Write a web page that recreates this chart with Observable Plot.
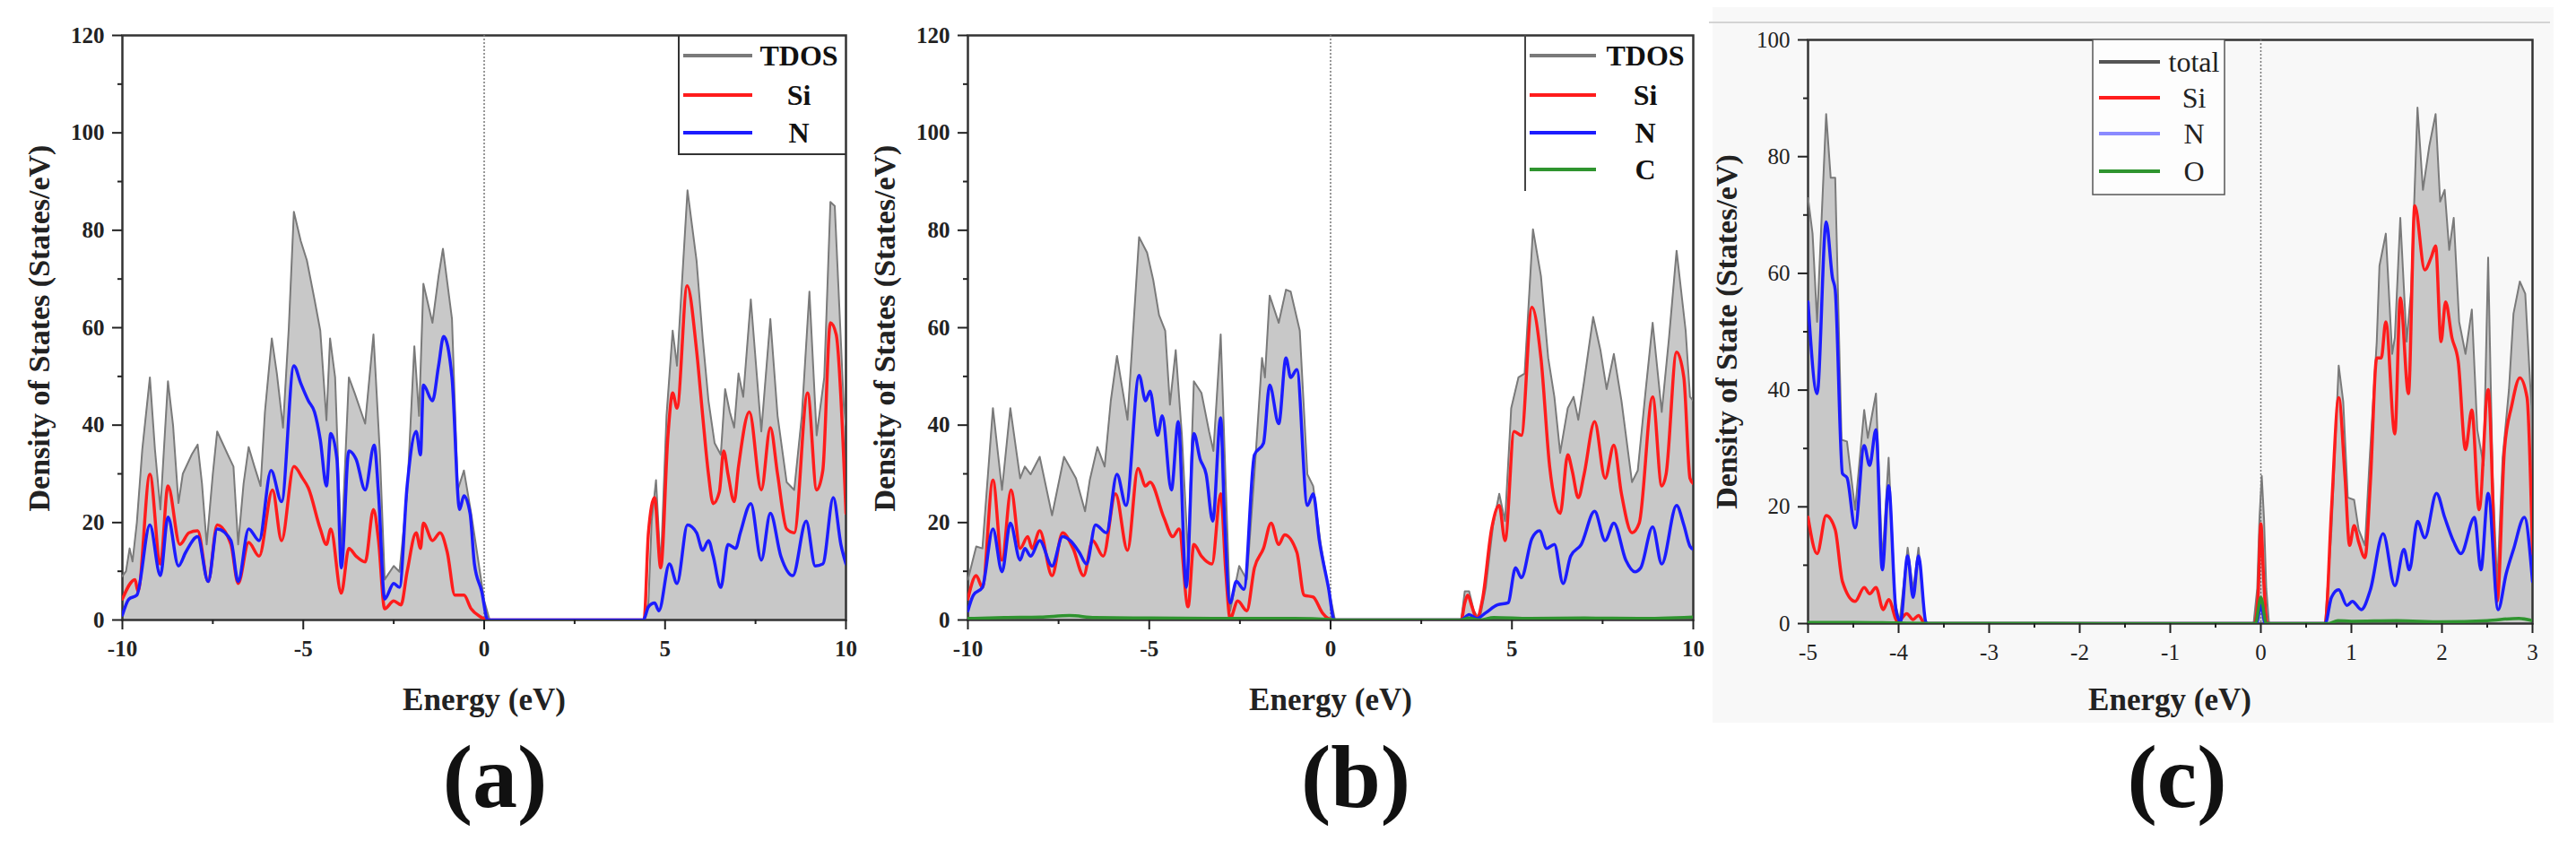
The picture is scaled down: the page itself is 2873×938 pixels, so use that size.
<!DOCTYPE html>
<html><head><meta charset="utf-8">
<script src="https://cdn.jsdelivr.net/npm/d3@7"></script>
<script src="https://cdn.jsdelivr.net/npm/@observablehq/plot@0.6"></script>
<style>
html,body{margin:0;padding:0;background:#fff;}
#wrap{position:relative;width:2873px;height:938px;overflow:hidden;background:#fff;font-family:"Liberation Serif","Times New Roman",serif;}
.pnl{position:absolute;top:0;}
.boldticks g[aria-label="x-axis tick label"], .boldticks g[aria-label="y-axis tick label"]{font-weight:bold;}
#cbg{position:absolute;left:1910px;top:8px;width:938px;height:798px;background:#f8f8f8;}
#cline{position:absolute;left:1906px;top:24px;width:938px;height:2px;background:#d4d4d4;}
#over{position:absolute;left:0;top:0;pointer-events:none;}
</style></head>
<body>
<div id="wrap"><div id="cbg"></div><div id="cline"></div></div>
<script>
// ---------- data: [energy (eV), DOS (states/eV)] ----------
// panel (a)
const aTdos = [[-10,9],[-9.9,10],[-9.8,14.7],[-9.72,12],[-9.6,20],[-9.45,35],[-9.24,49.8],[-9.1,35],[-8.95,22.7],[-8.74,49],[-8.6,40],[-8.45,24],[-8.33,30],[-8.08,34],[-7.92,36],[-7.8,28],[-7.67,15.5],[-7.5,30],[-7.38,38.7],[-7.09,34],[-6.93,31.5],[-6.8,15.5],[-6.65,28],[-6.51,35.5],[-6.35,31.5],[-6.18,27.5],[-6.06,42.7],[-5.87,57.8],[-5.73,50.6],[-5.56,39.5],[-5.4,60],[-5.26,83.8],[-5.07,77.8],[-4.9,73.8],[-4.69,65.8],[-4.53,59.4],[-4.36,41],[-4.26,57.8],[-4.12,49.8],[-3.95,13.9],[-3.74,49.8],[-3.58,46.6],[-3.29,40.3],[-3.06,58.6],[-2.88,33.9],[-2.75,8.3],[-2.5,11.1],[-2.34,9.9],[-2.13,25.9],[-1.93,56.2],[-1.8,41.9],[-1.68,69],[-1.43,61],[-1.26,70.6],[-1.14,76.2],[-0.89,61.8],[-0.73,26.7],[-0.56,30.7],[-0.36,21.9],[-0.15,11.5],[0,4],[0.15,0],[4.4,0],[4.54,3.5],[4.63,20.3],[4.75,28.7],[4.88,10.7],[5.04,41.9],[5.21,59.4],[5.33,52.2],[5.62,88.2],[5.87,73.8],[6.04,57.8],[6.2,45],[6.37,36.3],[6.54,33.9],[6.66,47.4],[6.79,42.7],[6.91,39.5],[7.03,50.6],[7.16,45.8],[7.37,65.8],[7.66,38.7],[7.91,61.8],[8.11,41.9],[8.36,28.3],[8.57,26.7],[8.78,41.9],[8.99,67.4],[9.19,37.9],[9.4,49.8],[9.57,85.8],[9.69,85],[9.94,44],[10,40]];
const aSi = [[-10,4.3],[-9.65,8.3],[-9.57,5.9],[-9.24,29.9],[-8.95,11.5],[-8.74,27.5],[-8.41,15.5],[-8.16,17.9],[-7.92,18.3],[-7.63,7.9],[-7.38,19.5],[-7,15.5],[-6.8,7.5],[-6.51,15.9],[-6.22,13.1],[-5.85,26.7],[-5.6,16.3],[-5.26,31.5],[-5.02,29.1],[-4.86,27.1],[-4.53,18.7],[-4.36,15.5],[-4.24,18.7],[-3.95,5.5],[-3.74,14.7],[-3.54,13.1],[-3.29,11.9],[-3.06,22.7],[-2.92,16.3],[-2.75,2.3],[-2.5,3.9],[-2.3,3.1],[-2.13,9.9],[-1.88,17.9],[-1.76,14.7],[-1.68,19.9],[-1.43,16.3],[-1.22,17.9],[-1.02,13.9],[-0.81,5.1],[-0.56,5.1],[-0.36,2.3],[-0.11,0.7],[0.1,0],[4.42,0],[4.54,17.9],[4.71,25.1],[4.88,10.7],[5.08,37.9],[5.21,46.6],[5.33,43.5],[5.61,68.6],[5.87,55.4],[6.04,41.9],[6.2,29.9],[6.33,23.9],[6.5,26.3],[6.62,34.7],[6.74,29.9],[6.91,24.3],[7.03,31.5],[7.33,42.7],[7.66,26.7],[7.91,39.5],[8.11,29.9],[8.36,18.7],[8.57,17.9],[8.94,46.6],[9.19,26.7],[9.36,30.7],[9.57,61],[9.73,58.6],[10,21.9]];
const aN = [[-10,1],[-9.82,4.3],[-9.6,5.1],[-9.24,19.5],[-8.95,9.1],[-8.74,21.1],[-8.45,11.1],[-8.25,13.9],[-7.92,17.1],[-7.63,7.9],[-7.38,18.7],[-7,16.3],[-6.8,7.9],[-6.51,18.7],[-6.22,16.3],[-5.89,30.7],[-5.6,24.3],[-5.26,52.2],[-5.07,48.6],[-4.86,45],[-4.69,42.7],[-4.53,37],[-4.36,27.5],[-4.24,38.3],[-4.07,33],[-3.95,10.7],[-3.74,34.7],[-3.54,33],[-3.29,26.7],[-3.04,35.9],[-2.92,25.9],[-2.75,4.3],[-2.5,7.5],[-2.34,6.7],[-2.13,27.5],[-1.88,38.7],[-1.76,33.9],[-1.68,48.2],[-1.43,45],[-1.26,52.2],[-1.12,58.2],[-0.89,49.8],[-0.68,22.7],[-0.56,25.5],[-0.39,21.9],[-0.27,11.5],[-0.07,5.9],[0.1,0],[4.4,0],[4.54,2.7],[4.71,3.5],[4.83,1.9],[5.12,11.5],[5.33,7.5],[5.62,19.5],[5.87,17.9],[6.04,14.3],[6.2,16.3],[6.33,13.1],[6.54,6.7],[6.74,15.5],[6.95,14.7],[7.08,17.9],[7.37,23.9],[7.66,12.3],[7.91,21.9],[8.2,13.1],[8.53,9.1],[8.9,20.3],[9.15,11.1],[9.36,11.5],[9.65,25.1],[9.86,15.5],[10,11.5]];
// panel (b)
const bTdos = [[-10,8.3],[-9.77,15.1],[-9.6,14.7],[-9.31,43.5],[-9.06,26.7],[-8.83,43.5],[-8.56,29.1],[-8.43,31.5],[-8.27,29.9],[-8.02,33.5],[-7.68,21.5],[-7.35,33.5],[-7.02,29.1],[-6.77,22.3],[-6.64,28.7],[-6.43,35.5],[-6.23,31.5],[-6.06,45],[-5.89,54.2],[-5.6,41.1],[-5.28,78.6],[-5.06,75.4],[-4.89,69.8],[-4.73,62.6],[-4.56,59.4],[-4.43,44.2],[-4.27,55.4],[-4.1,37.9],[-3.93,13.1],[-3.77,49],[-3.56,46.6],[-3.35,38.7],[-3.23,34.7],[-3.03,58.6],[-2.89,27.5],[-2.77,1.9],[-2.52,11.1],[-2.31,8.3],[-2.1,29.9],[-1.89,53.8],[-1.81,49.8],[-1.68,66.6],[-1.43,61],[-1.23,67.8],[-1.1,67.4],[-0.85,59.4],[-0.64,29.9],[-0.48,27.5],[-0.27,15.5],[-0.1,8.3],[0.12,0],[3.6,0],[3.7,5.9],[3.82,5.9],[3.95,1.9],[4.11,0],[4.28,6.7],[4.48,19.5],[4.65,25.9],[4.81,20.3],[4.98,43.5],[5.18,49.8],[5.35,50.6],[5.58,80.2],[5.8,70.6],[6,53.8],[6.17,45.8],[6.33,34.3],[6.54,43.5],[6.7,45.8],[6.83,41.1],[6.99,49],[7.24,62.2],[7.44,55.4],[7.61,47.4],[7.81,54.6],[8.02,45],[8.31,28.3],[8.47,30.7],[8.68,46.6],[8.88,61],[9.13,42.7],[9.33,57.8],[9.54,75.8],[9.79,59.4],[9.91,45.8],[10,45]];
const bSi = [[-10,4.3],[-9.77,9.1],[-9.6,6.7],[-9.31,28.7],[-9.06,12.3],[-8.81,26.7],[-8.56,14.7],[-8.35,17.1],[-8.23,14.7],[-8.02,18.3],[-7.68,9.1],[-7.39,17.9],[-7.1,14.7],[-6.81,9.1],[-6.56,16.3],[-6.27,13.1],[-5.93,25.9],[-5.6,14.3],[-5.31,31.1],[-5.1,27.5],[-4.98,28.3],[-4.6,21.1],[-4.35,17.1],[-4.18,18.7],[-3.93,2.7],[-3.77,15.5],[-3.56,13.1],[-3.27,11.5],[-3.03,25.9],[-2.89,9.9],[-2.77,0.3],[-2.56,3.9],[-2.31,1.9],[-2.1,10.7],[-1.85,14.7],[-1.64,19.9],[-1.43,15.5],[-1.27,17.5],[-0.93,13.9],[-0.73,5.1],[-0.48,4.7],[-0.23,1.5],[-0.06,0.3],[0.1,0],[3.6,0],[3.7,3.5],[3.78,5.1],[3.9,2.7],[4.03,0.3],[4.19,4.3],[4.44,18.7],[4.65,23.5],[4.81,16.3],[5.06,38.7],[5.26,37.9],[5.55,64.2],[5.8,53.8],[6.04,31.5],[6.33,21.9],[6.54,33.9],[6.66,30.7],[6.83,25.1],[6.99,29.9],[7.28,40.7],[7.57,29.1],[7.81,35.9],[8.02,25.9],[8.31,17.9],[8.51,19.9],[8.88,45.8],[9.13,27.5],[9.25,29.9],[9.54,55],[9.74,49.8],[9.91,29.1],[10,28]];
const bN = [[-10,1.9],[-9.85,5.1],[-9.6,6.7],[-9.31,18.7],[-9.06,9.9],[-8.83,19.9],[-8.56,12.3],[-8.43,14.7],[-8.27,13.1],[-8.02,16.3],[-7.68,11.1],[-7.39,17.1],[-7.18,16.3],[-6.93,13.9],[-6.73,11.5],[-6.48,19.5],[-6.18,17.9],[-5.89,29.9],[-5.64,23.5],[-5.28,50.2],[-5.1,45],[-4.98,47],[-4.77,37.9],[-4.64,41.9],[-4.39,26.7],[-4.2,40.7],[-3.98,6.7],[-3.77,38.3],[-3.6,33.1],[-3.43,29.9],[-3.25,20.3],[-3.03,41.5],[-2.93,21.9],[-2.77,3.5],[-2.6,7.9],[-2.39,6.3],[-2.1,33.9],[-1.85,36.3],[-1.68,48.2],[-1.43,40.3],[-1.23,53.8],[-1.1,49.8],[-0.93,51.4],[-0.64,23.5],[-0.48,25.9],[-0.31,16.3],[-0.06,6.7],[0.1,0],[3.6,0],[3.82,1.1],[4.03,0.3],[4.28,1.5],[4.6,3.1],[4.89,3.5],[5.1,10.7],[5.26,8.7],[5.55,16.7],[5.76,18.3],[5.96,14.7],[6.17,15.5],[6.41,7.5],[6.62,13.1],[6.91,15.5],[7.28,22.3],[7.57,16.3],[7.81,19.9],[8.14,12.3],[8.39,9.9],[8.55,10.7],[8.88,19.1],[9.13,11.5],[9.54,23.5],[9.74,19.5],[9.91,15.1],[10,14.5]];
const bC = [[-10,0.3],[-9,0.5],[-8,0.6],[-7.2,0.9],[-6.5,0.5],[-5,0.4],[-3,0.3],[-1,0.3],[0,0.1],[0.2,0],[3.6,0],[3.8,0.4],[4.1,0],[4.5,0.5],[5.5,0.3],[7,0.4],[8.5,0.3],[10,0.6]];
// panel (c)
const cTotal = [[-5,72.9],[-4.95,66.8],[-4.9,51.7],[-4.8,87.3],[-4.75,76.4],[-4.7,76.4],[-4.63,31.5],[-4.57,31.2],[-4.48,19.5],[-4.38,36.6],[-4.34,31.8],[-4.25,39.4],[-4.18,10.6],[-4.11,28.4],[-4.04,3.8],[-3.99,0.3],[-3.9,13],[-3.84,5.8],[-3.78,13],[-3.71,0.3],[-3.68,0],[-0.08,0],[-0.04,6],[-0.015,18],[0.01,25.3],[0.035,18],[0.06,6],[0.09,0],[0.71,0],[0.78,16.1],[0.86,44.2],[0.91,38],[0.96,21.6],[1.03,21.2],[1.08,16.1],[1.15,13.4],[1.2,27.7],[1.28,48.3],[1.31,61.3],[1.38,66.8],[1.45,46.2],[1.48,49],[1.54,69.5],[1.61,48.3],[1.66,57.2],[1.73,88.4],[1.79,74.3],[1.86,81.8],[1.93,87.3],[1.98,72.3],[2.03,74.3],[2.08,64],[2.13,69.5],[2.19,51.7],[2.26,46.2],[2.33,53.8],[2.39,33.2],[2.46,27.1],[2.51,62.7],[2.56,25],[2.61,6.5],[2.67,28.4],[2.74,40.1],[2.79,53.1],[2.86,58.6],[2.92,56.5],[2.99,36.6],[3,23]];
const cSi = [[-5,18.2],[-4.9,12],[-4.8,18.5],[-4.7,16.1],[-4.62,7.2],[-4.48,3.8],[-4.38,6.2],[-4.32,5.1],[-4.25,6.2],[-4.17,2.4],[-4.11,4.1],[-4.01,0.3],[-3.91,1.7],[-3.84,0.7],[-3.78,1.4],[-3.71,0],[-0.07,0],[-0.03,5],[0,17.1],[0.03,8],[0.07,0],[0.71,0],[0.78,19.5],[0.86,38.7],[0.93,25],[0.98,13.4],[1.03,16.8],[1.08,14],[1.15,11.3],[1.21,24.3],[1.28,45.5],[1.33,45.5],[1.38,51.7],[1.48,32.5],[1.54,55.8],[1.63,39.4],[1.7,71.6],[1.81,60.6],[1.88,62.7],[1.93,64.7],[1.99,48.3],[2.04,55.1],[2.11,49],[2.18,44.9],[2.26,29.8],[2.33,36.6],[2.41,19.5],[2.51,40.1],[2.61,3.8],[2.69,29.8],[2.77,37.3],[2.86,42.1],[2.94,38.7],[3,12]];
const cN = [[-5,55.1],[-4.9,39.4],[-4.8,68.8],[-4.73,59.2],[-4.7,57.2],[-4.62,25.7],[-4.57,25],[-4.48,16.4],[-4.38,30.5],[-4.32,27.1],[-4.25,33.2],[-4.18,9.2],[-4.11,23.6],[-4.03,2.4],[-3.98,0.3],[-3.9,11.6],[-3.84,4.5],[-3.78,11.6],[-3.7,0.3],[-3.68,0],[-0.05,0],[0,3.1],[0.05,0],[0.71,0],[0.78,4.5],[0.86,5.8],[0.95,3.1],[1.01,3.8],[1.11,2.4],[1.21,5.8],[1.35,15.4],[1.48,6.5],[1.58,12.7],[1.64,9.2],[1.73,17.5],[1.81,14.7],[1.94,22.3],[2.03,18.2],[2.13,14],[2.21,12],[2.36,18.2],[2.43,9.2],[2.51,22.3],[2.62,2.4],[2.71,8.6],[2.79,12.7],[2.91,18.2],[3,7.2]];
const cO = [[-5,0.2],[-4.5,0.2],[-4,0.1],[-3.7,0.05],[-0.06,0],[0,4.5],[0.06,0],[0.75,0],[0.85,0.5],[1,0.4],[1.5,0.5],[2,0.3],[2.5,0.5],[2.85,0.9],[3,0.5]];
// ticks
const abXMajor = [-10,-5,0,5,10];
const abXMinor = [-7.5,-2.5,2.5,7.5];
const abYMajor = [0,20,40,60,80,100,120];
const abYMinor = [10,30,50,70,90,110];
const cXMajor = [-5,-4,-3,-2,-1,0,1,2,3];
const cXMinor = [-4.5,-3.5,-2.5,-1.5,-0.5,0.5,1.5,2.5];
const cYMajor = [0,20,40,60,80,100];
const cYMinor = [10,30,50,70,90];

const GRAY_FILL = "#c8c8c8", GRAY_LINE = "#7a7a7a", RED = "#ff1c1c", BLUE = "#1c1cff", GREEN = "#2f942f";
const X = d => d[0], Y = d => d[1];

function panel(o) {
  const weight = o.bold ? "bold" : "normal";
  const marks = [
    Plot.areaY(o.tdos, {x: X, y: Y, fill: GRAY_FILL, curve: "linear", clip: true}),
    Plot.frame({stroke: "#333", strokeWidth: 2.5}),
    Plot.ruleX([0], {stroke: "#777", strokeWidth: 1.5, strokeDasharray: "2,2"}),
    Plot.line(o.tdos, {x: X, y: Y, stroke: GRAY_LINE, strokeWidth: 2, clip: true}),
  ];
  for (const s of o.series) marks.push(Plot.line(s.data, {x: X, y: Y, stroke: s.color, strokeWidth: 3.5, curve: "monotone-x", clip: true}));
  marks.push(
    Plot.axisX(o.xMajor, {tickSize: 11, tickPadding: 12, strokeWidth: 2, fontSize: 25, fontWeight: weight, tickFormat: d => String(d), label: null}),
    Plot.axisX(o.xMinor, {tickSize: 5, strokeWidth: 2, text: null, label: null}),
    Plot.axisY(o.yMajor, {tickSize: 11, tickPadding: 9, strokeWidth: 2, fontSize: 25, fontWeight: weight, tickFormat: d => String(d), label: null}),
    Plot.axisY(o.yMinor, {tickSize: 5, strokeWidth: 2, text: null, label: null})
  );
  const svg = Plot.plot({
    width: o.width, height: 760,
    marginLeft: o.ml, marginRight: o.mr, marginTop: o.mt, marginBottom: o.mb,
    x: {domain: o.xDom}, y: {domain: o.yDom},
    className: o.bold ? "boldticks" : "plainticks",
    style: {fontFamily: "'Liberation Serif','Times New Roman',serif", background: "transparent", color: "#222"},
    marks
  });
  const div = document.createElement("div");
  div.className = "pnl";
  div.style.left = o.left + "px";
  div.appendChild(svg);
  document.getElementById("wrap").appendChild(div);
}

panel({left: 0, width: 960, ml: 136, mr: 17, mt: 39, mb: 69, xDom: [-10,10], yDom: [0,120], bold: true,
  xMajor: abXMajor, xMinor: abXMinor, yMajor: abYMajor, yMinor: abYMinor,
  tdos: aTdos, series: [{data: aSi, color: RED}, {data: aN, color: BLUE}]});
panel({left: 960, width: 960, ml: 119, mr: 32, mt: 39, mb: 69, xDom: [-10,10], yDom: [0,120], bold: true,
  xMajor: abXMajor, xMinor: abXMinor, yMajor: abYMajor, yMinor: abYMinor,
  tdos: bTdos, series: [{data: bSi, color: RED}, {data: bN, color: BLUE}, {data: bC, color: GREEN}]});
panel({left: 1920, width: 953, ml: 96, mr: 49, mt: 44, mb: 65, xDom: [-5,3], yDom: [0,100], bold: false,
  xMajor: cXMajor, xMinor: cXMinor, yMajor: cYMajor, yMinor: cYMinor,
  tdos: cTotal, series: [{data: cSi, color: RED}, {data: cN, color: BLUE}, {data: cO, color: GREEN}]});

// ---------- overlay: titles, legends, panel labels ----------
const NS = "http://www.w3.org/2000/svg";
const over = document.createElementNS(NS, "svg");
over.setAttribute("id", "over");
over.setAttribute("width", 2873); over.setAttribute("height", 938);
over.style.fontFamily = "'Liberation Serif','Times New Roman',serif";
document.getElementById("wrap").appendChild(over);
function el(tag, attrs, text) {
  const e = document.createElementNS(NS, tag);
  for (const k in attrs) e.setAttribute(k, attrs[k]);
  if (text != null) e.textContent = text;
  over.appendChild(e);
  return e;
}
const yTitles = [["Density of States (States/eV)", 43, 366], ["Density of States (States/eV)", 986, 366], ["Density of State (States/eV)", 1925, 370]];
for (const [t, x, y] of yTitles) el("text", {x: 0, y: 0, transform: `translate(${x},${y}) rotate(-90)`, "text-anchor": "middle", "dominant-baseline": "central", "font-size": 34, "font-weight": "bold", fill: "#222"}, t);
for (const x of [540, 1484, 2420]) el("text", {x, y: 780, "text-anchor": "middle", "dominant-baseline": "central", "font-size": 35, "font-weight": "bold", fill: "#222"}, "Energy (eV)");
const panelLabels = [["(a)", 552], ["(b)", 1512], ["(c)", 2428]];
for (const [t, x] of panelLabels) el("text", {x, y: 866, "text-anchor": "middle", "dominant-baseline": "central", "font-size": 100, "font-weight": "bold", fill: "#111"}, t);

// legend (a)
el("path", {d: "M757,39V172H943", fill: "none", stroke: "#333", "stroke-width": 2});
const legA = [["TDOS", GRAY_LINE, 62], ["Si", RED, 106], ["N", BLUE, 148]];
for (const [t, c, y] of legA) {
  el("line", {x1: 762, x2: 839, y1: y, y2: y, stroke: c, "stroke-width": 4});
  el("text", {x: 891, y, "text-anchor": "middle", "dominant-baseline": "central", "font-size": 32, "font-weight": "bold", fill: "#111"}, t);
}
// legend (b)
el("path", {d: "M1701,39V213", fill: "none", stroke: "#444", "stroke-width": 2});
const legB = [["TDOS", GRAY_LINE, 62], ["Si", RED, 106], ["N", BLUE, 148], ["C", GREEN, 189]];
for (const [t, c, y] of legB) {
  el("line", {x1: 1706, x2: 1780, y1: y, y2: y, stroke: c, "stroke-width": 4});
  el("text", {x: 1835, y, "text-anchor": "middle", "dominant-baseline": "central", "font-size": 32, "font-weight": "bold", fill: "#111"}, t);
}
// legend (c)
el("rect", {x: 2334, y: 44, width: 147, height: 173, fill: "#fdfdfd", stroke: "#555", "stroke-width": 1.5});
const legC = [["total", "#555", 69], ["Si", RED, 109], ["N", "#8a8aff", 149], ["O", GREEN, 191]];
for (const [t, c, y] of legC) {
  el("line", {x1: 2341, x2: 2409, y1: y, y2: y, stroke: c, "stroke-width": 4});
  el("text", {x: 2447, y, "text-anchor": "middle", "dominant-baseline": "central", "font-size": 32, fill: "#222"}, t);
}
</script>
</body></html>
